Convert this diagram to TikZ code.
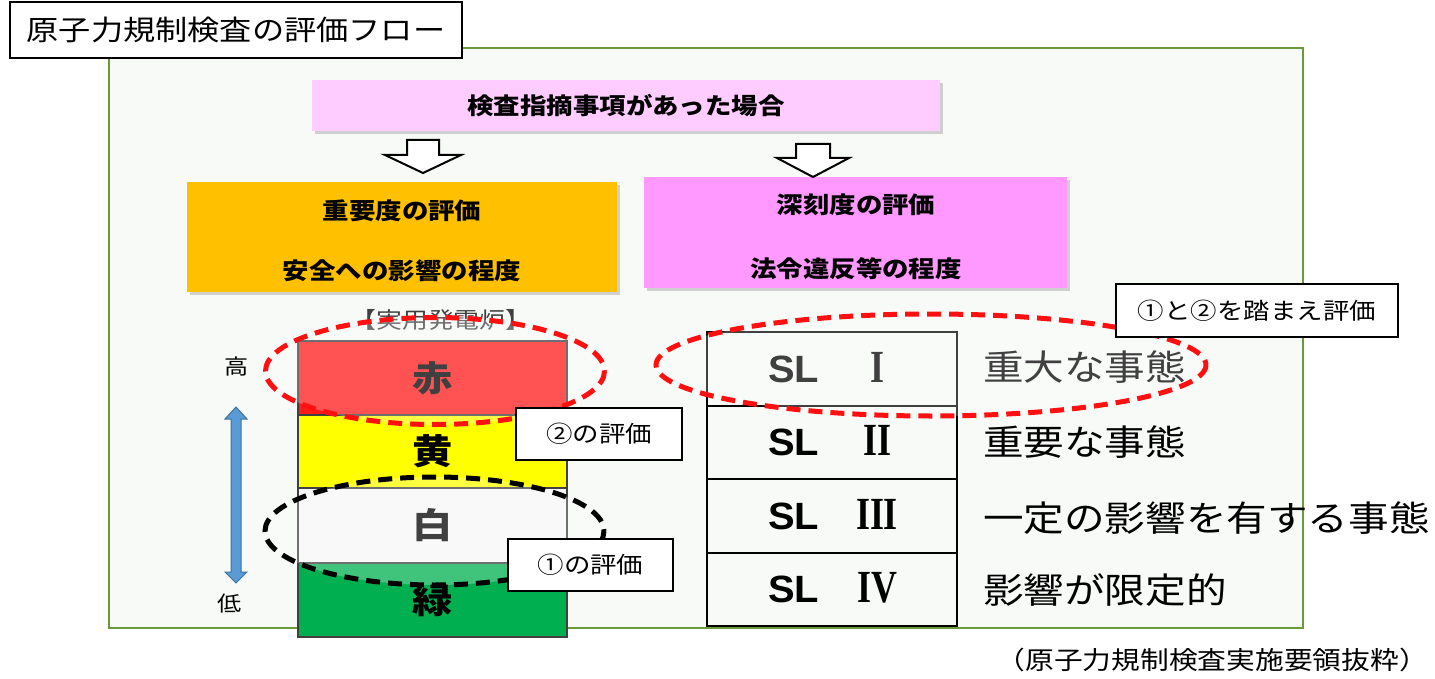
\documentclass[tikz,border=0pt]{standalone}
\usepackage{fontspec}
\setmainfont{Noto Sans CJK JP}[FakeStretch=1.15]
\newfontfamily\slfont{Liberation Sans}[FakeStretch=1.05]
\newfontfamily\romfont{Liberation Serif}[FakeStretch=0.78]
\usetikzlibrary{shadows}
\definecolor{frameg}{HTML}{6A9A3A}
\definecolor{framebg}{HTML}{F8FAF8}
\definecolor{pinkl}{HTML}{FFCCFF}
\definecolor{orangeb}{HTML}{FFC000}
\definecolor{magb}{HTML}{FF99FF}
\definecolor{redc}{HTML}{FF1A1A}
\definecolor{yelc}{HTML}{FFFF00}
\definecolor{whc}{HTML}{F7F7F7}
\definecolor{grc}{HTML}{00B050}
\definecolor{bluef}{HTML}{5B9BD5}
\definecolor{blued}{HTML}{41719C}
\definecolor{dgray}{HTML}{404040}
\definecolor{redd}{HTML}{FF1010}
\newcommand{\rom}[1]{{\romfont\fontsize{46}{46}\selectfont\bfseries #1}}
\begin{document}
\begin{tikzpicture}[x=1pt,y=-1pt,
  shbox/.style={inner sep=0pt, drop shadow={shadow xshift=3pt,shadow yshift=-3pt,opacity=0.35}},
  boldtxt/.style={font=\fontsize{23}{26}\selectfont\bfseries},
  lblbox/.style={draw=black, line width=1.5pt, fill=white, inner sep=0pt, font=\fontsize{23}{26}\selectfont},
  cell/.style={draw=dgray, line width=2.5pt, minimum width=269pt, inner sep=0pt, font=\fontsize{35}{40}\selectfont\bfseries},
  slrow/.style={draw=black, line width=2.5pt, minimum width=250pt, inner sep=0pt, font=\fontsize{38}{42}\selectfont\bfseries},
  rlabel/.style={anchor=west, inner sep=0pt, font=\fontsize{35.3}{40}\selectfont},
  blockarrow/.style={draw=black, line width=2pt, fill=white, line join=miter},
  redell/.style={draw=redd, line width=5pt, dash pattern=on 14pt off 8pt, fill=white, fill opacity=0.25},
  blkell/.style={draw=black, line width=5pt, dash pattern=on 14pt off 8pt, fill=white, fill opacity=0.25}
]
\useasboundingbox (0,0) rectangle (1435,679);
\fill[white] (0,0) rectangle (1435,679);

% frame
\draw[frameg, line width=2pt, fill=framebg] (109,48) rectangle (1303,628);

% title
\node[draw=black, line width=1.5pt, fill=white, minimum width=452pt, minimum height=56pt, inner sep=0pt,
      font=\fontsize{28}{32}\selectfont] (title) at (236,30) {原子力規制検査の評価フロー};

% top boxes
\node[shbox, fill=pinkl, minimum width=628pt, minimum height=51pt, boldtxt] (top) at (626,105.5) {検査指摘事項があった場合};
\node[shbox, fill=orangeb, minimum width=430pt, minimum height=110pt] (imp) at (402,237) {};
\node[boldtxt] (impa) at (402,211) {重要度の評価};
\node[boldtxt] (impb) at (402,271) {安全への影響の程度};
\node[shbox, fill=magb, minimum width=423pt, minimum height=111pt] (sev) at (855.5,232.5) {};
\node[boldtxt] (seva) at (856,205) {深刻度の評価};
\node[boldtxt] (sevb) at (856,269) {法令違反等の程度};

% block arrows
\draw[blockarrow] (407,140) -- (439,140) -- (439,155) -- (461,155) -- (423,173) -- (385,155) -- (407,155) -- cycle;
\draw[blockarrow] (796,144) -- (830,144) -- (830,158) -- (849,158) -- (813,177) -- (777,158) -- (796,158) -- cycle;

% labels left
\node[font=\fontsize{22.5}{24}\selectfont, text=dgray, inner sep=0pt] (plant) at (441,320) {【実用発電炉】};
\node[font=\fontsize{21}{22}\selectfont, inner sep=0pt] (hi) at (237,367) {高};
\node[font=\fontsize{21}{22}\selectfont, inner sep=0pt] (lo) at (230,604) {低};
\draw[fill=bluef, draw=blued, line width=1pt] (236,407) -- (247,419) -- (241,419) -- (241,572) -- (247,572) -- (236,583) -- (225,572) -- (231,572) -- (231,419) -- (225,419) -- cycle;

% stack
\node[cell, fill=redc, minimum height=74pt] (red) at (432.5,378) {赤};
\node[cell, fill=yelc, minimum height=73pt] (yel) at (432.5,451.5) {黄};
\node[cell, fill=whc, minimum height=75pt] (wht) at (432.5,525.5) {白};
\node[cell, fill=grc, minimum height=74pt] (grn) at (432.5,600) {緑};

% SL table
\node[slrow, fill=framebg, minimum height=74pt] (sl1) at (832,369) {};
\node[slrow, fill=framebg, minimum height=73pt] (sl2) at (832,442.5) {};
\node[slrow, fill=framebg, minimum height=74pt] (sl3) at (832,516) {};
\node[slrow, fill=framebg, minimum height=73pt] (sl4) at (832,589.5) {};
\foreach \n/\r in {sl1/I, sl2/II, sl3/III, sl4/IV}{
  \node[anchor=west, inner sep=0pt, font=\fontsize{38}{42}\selectfont\bfseries\slfont] (\n s) at ([xshift=-64pt]\n.center) {SL};
  \node[inner sep=0pt] (\n r) at ([xshift=45pt,yshift=2pt]\n.center) {\rom{\r}};
}

\node[rlabel] (d1) at (983,367) {重大な事態};
\node[rlabel] (d2) at (983,442) {重要な事態};
\node[rlabel] (d3) at (983,518) {一定の影響を有する事態};
\node[rlabel] (d4) at (983,590) {影響が限定的};

% ellipses
\path[redell] (435,371) ellipse [x radius=169.5, y radius=53.5];
\path[blkell] (434.5,531) ellipse [x radius=169.5, y radius=54];
\path[redell] (931,365) ellipse [x radius=275, y radius=51];

% label boxes
\node[lblbox, minimum width=166pt, minimum height=52pt] (e2) at (599,434) {②の評価};
\node[lblbox, minimum width=165pt, minimum height=52pt] (e1) at (590.5,565) {①の評価};
\node[lblbox, minimum width=282pt, minimum height=53pt] (e12) at (1257,310.5) {①と②を踏まえ評価};

% footer
\node[anchor=east, inner sep=0pt, font=\fontsize{25}{28}\selectfont] (src) at (1428,660) {（原子力規制検査実施要領抜粋）};
\end{tikzpicture}
\end{document}
